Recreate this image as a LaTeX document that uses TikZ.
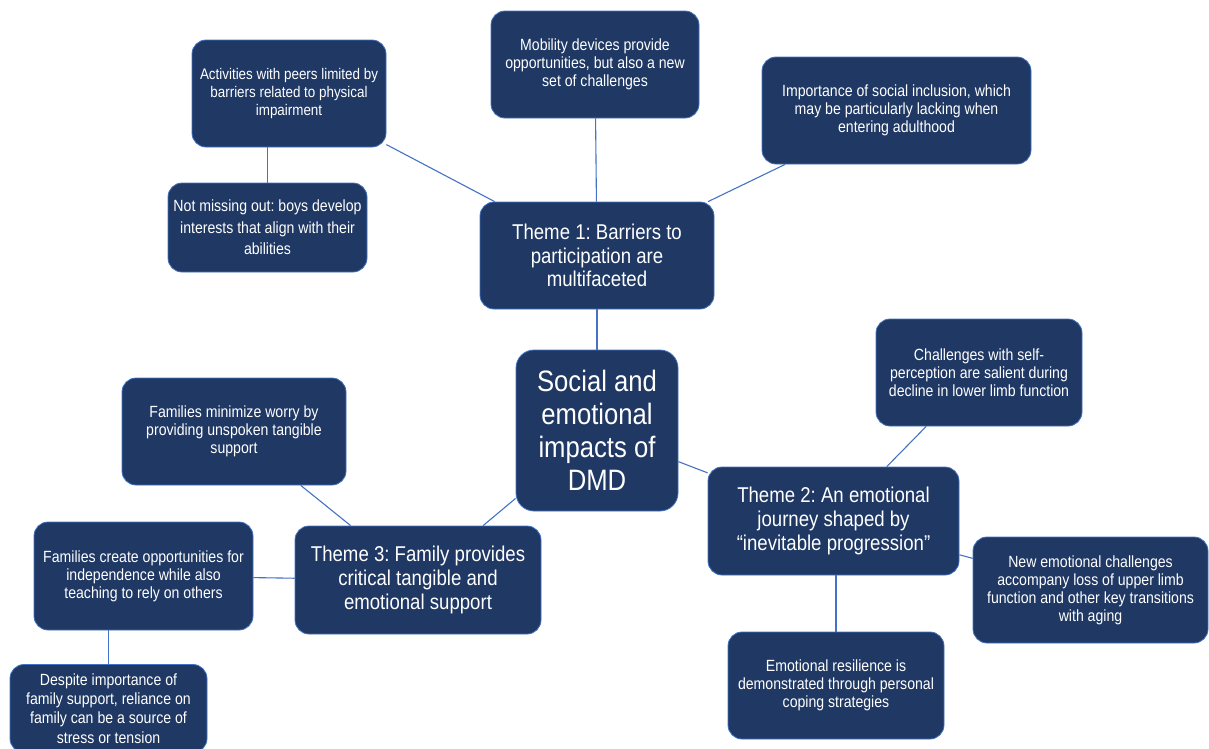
\documentclass[tikz,border=0pt]{standalone}
\usepackage{fontspec}
\setmainfont{Liberation Sans}
\newfontfamily\narrowsans[FakeStretch=0.87]{Liberation Sans}
\usetikzlibrary{positioning}
\definecolor{navy}{HTML}{1F3864}
\definecolor{edgeblue}{HTML}{4472C4}
\frenchspacing

\begin{document}
\begin{tikzpicture}[
  x=1pt, y=-1pt,
  box/.style={draw=edgeblue, line width=0.8pt, fill=navy, text=white, rounded corners=14pt,
    align=center, inner sep=0pt, font=\narrowsans\fontsize{16.2}{18}\selectfont},
  theme/.style={box, font=\narrowsans\fontsize{21.4}{23.8}\selectfont},
  hubbox/.style={box, rounded corners=18pt, font=\narrowsans\fontsize{29.5}{33}\selectfont},
  link/.style={draw=edgeblue, line width=1.1pt},
]
\useasboundingbox (0,0) rectangle (1209,748);

% centre and themes
\node[hubbox, minimum width=162pt, minimum height=161pt] (hub) at (597,430.5)
  {Social and\\emotional\\impacts of\\DMD};
\node[theme, minimum width=234pt, minimum height=107pt] (theme1) at (597,255.5)
  {Theme 1: Barriers to\\participation are\\multifaceted};
\node[theme, minimum width=251pt, minimum height=108pt] (theme2) at (833.5,521)
  {Theme 2: An emotional\\journey shaped by\\“inevitable progression”};
\node[theme, minimum width=246pt, minimum height=108pt] (theme3) at (418,580)
  {Theme 3: Family provides\\critical tangible and\\emotional support};

% theme 1 subthemes
\node[box, minimum width=194pt, minimum height=107pt, font=\narrowsans\fontsize{15.4}{18}\selectfont] (peers) at (289,93.5)
  {Activities with peers limited by\\barriers related to physical\\impairment};
\node[box, minimum width=199pt, minimum height=89pt, font=\narrowsans\fontsize{16.2}{21.5}\selectfont] (notmiss) at (267.5,227.5)
  {Not missing out: boys develop\\interests that align with their\\abilities};
\node[box, minimum width=208pt, minimum height=107pt] (mobility) at (595,64.5)
  {Mobility devices provide\\opportunities, but also a new\\set of challenges};
\node[box, minimum width=269pt, minimum height=107pt] (inclusion) at (896.5,110.5)
  {Importance of social inclusion, which\\may be particularly lacking when\\entering adulthood};

% theme 2 subthemes
\node[box, minimum width=206pt, minimum height=107pt] (selfperc) at (979,372.5)
  {Challenges with self-\\perception are salient during\\decline in lower limb function};
\node[box, minimum width=235pt, minimum height=106pt] (newemo) at (1090.5,590)
  {New emotional challenges\\accompany loss of upper limb\\function and other key transitions\\with aging};
\node[box, minimum width=216pt, minimum height=107pt] (resil) at (836,685.5)
  {Emotional resilience is\\demonstrated through personal\\coping strategies};

% theme 3 subthemes
\node[box, minimum width=224pt, minimum height=107pt] (fammin) at (234,431.5)
  {Families minimize worry by\\providing unspoken tangible\\support};
\node[box, minimum width=219pt, minimum height=108pt] (famcreate) at (143.5,576)
  {Families create opportunities for\\independence while also\\teaching to rely on others};
\node[box, minimum width=197pt, minimum height=88pt, font=\narrowsans\fontsize{16.2}{19.3}\selectfont] (despite) at (108.5,708.5)
  {Despite importance of\\family support, reliance on\\family can be a source of\\stress or tension};

% links
\draw[link] (hub) -- (theme1);
\draw[link] (hub) -- (theme2);
\draw[link] (hub) -- (theme3);
\draw[link] (peers) -- (theme1);
\draw[link] (notmiss |- peers.south) -- (notmiss.north);
\draw[link] (mobility) -- (theme1);
\draw[link] (inclusion) -- (theme1);
\draw[link] (selfperc) -- (theme2);
\draw[link] (theme2) -- (newemo);
\draw[link] (resil |- theme2.south) -- (resil.north);
\draw[link] (fammin) -- (theme3);
\draw[link] (famcreate) -- (theme3);
\draw[link] (despite |- famcreate.south) -- (despite.north);
\end{tikzpicture}
\end{document}
